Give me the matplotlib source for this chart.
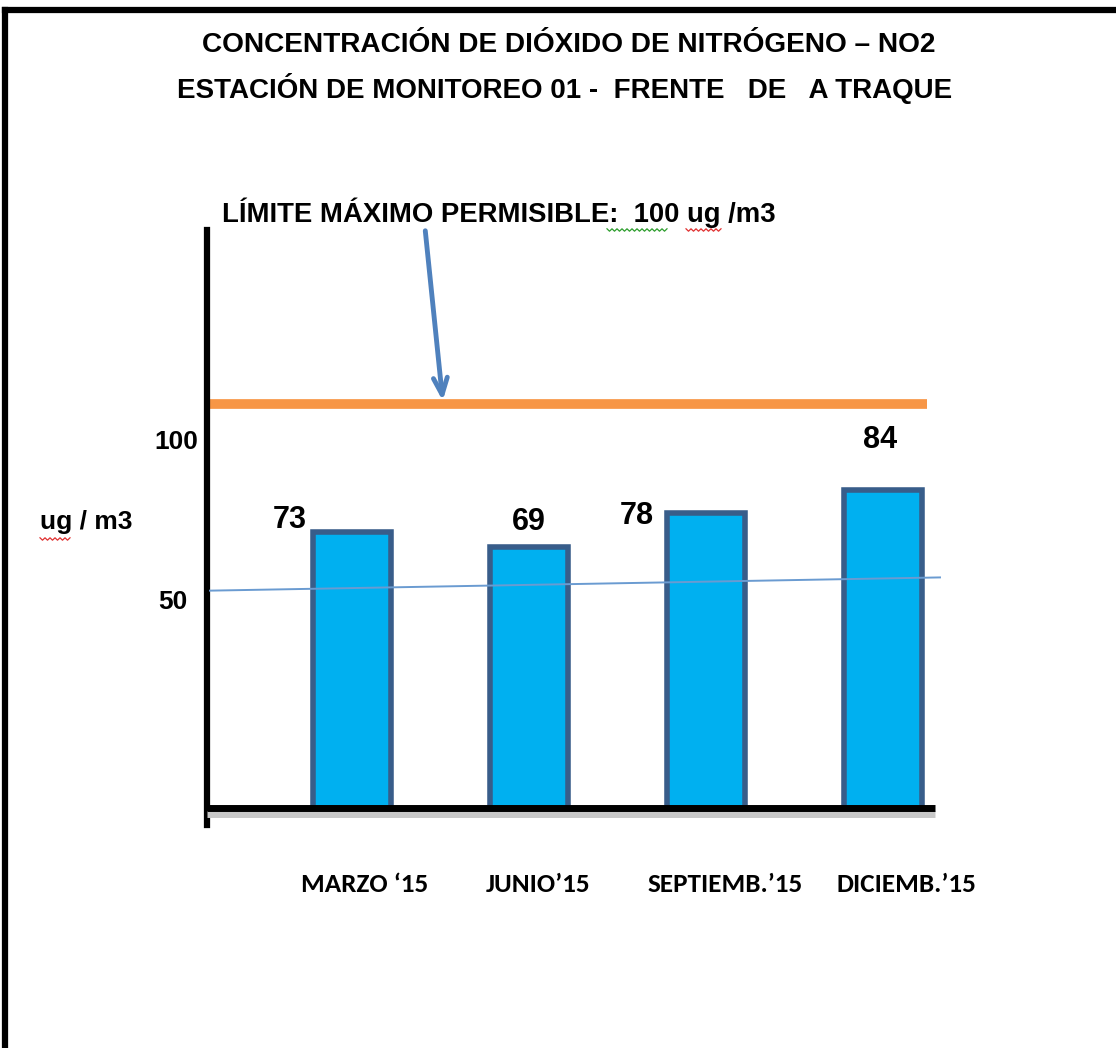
import matplotlib
matplotlib.use("Agg")
import numpy as np
import matplotlib.pyplot as plt
from matplotlib.lines import Line2D
from matplotlib import font_manager as fm

# data
months = ["MARZO \u201815", "JUNIO\u201915", "SEPTIEMB.\u201915", "DICIEMB.\u201915"]
no2_values = [73, 69, 78, 84]
limit_line_level = 107        # where the orange limit line sits on the bar scale
trend_ends = [57.5, 61.0]     # thin blue trend line, left/right ends
y_ticks = [50, 100]
y_tick_labels = ["50", "100"]

title_lines = [
    "CONCENTRACI\u00d3N DE DI\u00d3XIDO DE NITR\u00d3GENO \u2013 NO2",
    "ESTACI\u00d3N DE MONITOREO 01 -  FRENTE   DE   A TRAQUE",
]
limit_text = "L\u00cdMITE M\u00c1XIMO PERMISIBLE:  100 ug /m3"
unit_text = "ug / m3"


def pick_font(prefs):
    have = {f.name for f in fm.fontManager.ttflist}
    for p in prefs:
        if p in have:
            return p
    return "DejaVu Sans"


ARIAL = [pick_font(["Liberation Sans", "Arimo"]), "DejaVu Sans"]
CALIBRI = [pick_font(["Carlito", "PT Sans Narrow", "Roboto Condensed"]), "DejaVu Sans"]
BAR_FILL = "#00B0F0"
BAR_EDGE = "#385D8A"
ORANGE = "#F79646"
ARROW_BLUE = "#4F81BD"

W, H = 1116, 1048
fig = plt.figure(figsize=(W / 100, H / 100), dpi=100)
fig.patch.set_facecolor("white")


def fx(px):
    return px / W


def fy(py):
    return 1 - py / H


def squiggle(x_from, x_to, y, color):
    # spell-check style wavy underline
    xs_ = np.arange(x_from, x_to + 0.1, 2.5)
    ys_ = y + np.where(np.arange(len(xs_)) % 2 == 0, -1.2, 1.2)
    fig.add_artist(Line2D(fx(xs_), fy(ys_), color=color, lw=0.9))


# outer frame (only top and left edges are visible)
fig.add_artist(Line2D([fx(5), fx(5)], [fy(10), fy(1048)], color="black", lw=4.5))
fig.add_artist(Line2D([fx(5), fx(1116)], [fy(10), fy(10)], color="black", lw=4.5))

# axes box: left spine x=207, top y=230, baseline y=808
ax_left, ax_right, ax_top, ax_bot = 207, 945, 230, 825
ax = fig.add_axes([fx(ax_left), fy(ax_bot), fx(ax_right - ax_left), fy(ax_top) - fy(ax_bot)])
ax.set_facecolor("none")

px_per_unit = 3.78
ax.set_ylim(-(ax_bot - 808) / px_per_unit, (808 - ax_top) / px_per_unit)
slot = 177.0
x0 = (352 - ax_left) / slot
ax.set_xlim(-x0, -x0 + (ax_right - ax_left) / slot)

xs = list(range(len(months)))
ax.bar(xs, no2_values, width=0.44, bottom=0, color=BAR_FILL,
       edgecolor=BAR_EDGE, linewidth=4, zorder=3)

# orange limit line and trend line
ax.plot([-x0 + 3 / slot, -x0 + (927 - ax_left) / slot], [limit_line_level] * 2,
        color=ORANGE, lw=7, solid_capstyle="butt", zorder=2)
ax.plot([-x0 + 3 / slot, -x0 + (940 - ax_left) / slot], trend_ends,
        color="#6A9BD1", lw=1.4, zorder=4, clip_on=False)

# x axis baseline with a soft shadow
base_end = -x0 + (935 - ax_left) / slot
ax.plot([-x0, base_end], [-1.5, -1.5], color="#c8c8c8", lw=5, zorder=4,
        solid_capstyle="butt", clip_on=False)
ax.plot([-x0, base_end], [0, 0], color="black", lw=5, zorder=5,
        solid_capstyle="butt", clip_on=False)

for s in ["top", "right", "bottom"]:
    ax.spines[s].set_visible(False)
ax.spines["left"].set_linewidth(4.5)
ax.spines["left"].set_color("black")
ax.set_xticks([])
ax.set_yticks(y_ticks)
ax.set_yticklabels([])
ax.tick_params(axis="y", length=0)

# y tick labels, nudged as in the picture
tick_nudge = [(-20, 17), (-9, -12)]
for v, lab, (dx, dy) in zip(y_ticks, y_tick_labels, tick_nudge):
    ax.annotate(lab, (-x0, v), xytext=(dx, dy), textcoords="offset pixels",
                ha="right", va="center", fontsize=19, fontweight="bold",
                family=ARIAL)
fig.text(fx(40), fy(522), unit_text, ha="left", va="center", fontsize=19,
         fontweight="bold", family=ARIAL)
squiggle(40, 70, 539, "#E03030")

# value labels
label_offsets = [(-62, 12), (0, 25), (-69, -3), (-3, 50)]
for x, v, (dx, dy) in zip(xs, no2_values, label_offsets):
    ax.annotate(str(v), (x, v), xytext=(dx, dy), textcoords="offset pixels",
                ha="center", va="center", fontsize=22, fontweight="bold",
                family=ARIAL)

# month labels under the axis
label_x = [365, 538, 725, 906]
for lx, m in zip(label_x, months):
    fig.text(fx(lx), fy(885), m, ha="center", va="center", fontsize=19.5,
             fontweight="bold", family=CALIBRI)

# titles
fig.text(fx(569), fy(45), title_lines[0], ha="center", va="center",
         fontsize=20.2, fontweight="bold", family=ARIAL)
fig.text(fx(565), fy(88), title_lines[1], ha="center", va="center",
         fontsize=20, fontweight="bold", family=ARIAL)

# limit annotation with arrow
fig.text(fx(222), fy(213), limit_text, ha="left", va="center",
         fontsize=19.8, fontweight="bold", family=ARIAL)
squiggle(607, 667, 230, "#2E9E2E")
squiggle(686, 722, 230, "#E03030")
ax.annotate("", xy=(-x0 + (443 - ax_left) / slot, limit_line_level),
            xytext=(fx(425), fy(228)), textcoords="figure fraction",
            arrowprops=dict(arrowstyle="->,head_length=1.2,head_width=0.5",
                            color=ARROW_BLUE, lw=3.5), zorder=6)

fig.savefig("out.png", dpi=100)
